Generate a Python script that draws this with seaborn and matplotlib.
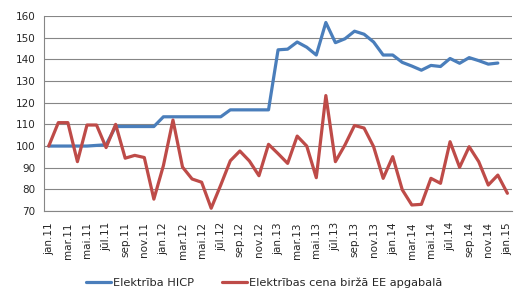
import numpy as np
import pandas as pd
import matplotlib
matplotlib.use("Agg")
import matplotlib.pyplot as plt
import seaborn as sns

# mēneši jan.11 .. jan.15
months = ['jan', 'feb', 'mar', 'apr', 'mai', 'jūn', 'jūl', 'aug', 'sep', 'okt', 'nov', 'dec']
labels = ['{}.{}'.format(m, y) for y in range(11, 15) for m in months] + ['jan.15']

hicp = [100, 100, 100, 100, 100, 100.3, 100.6, 109, 109, 109, 109, 109,
        113.5, 113.5, 113.5, 113.5, 113.5, 113.5, 113.5, 116.7, 116.7, 116.7, 116.7, 116.7,
        144.4, 144.7, 148, 145.6, 142, 157, 147.7, 149.5, 153, 151.6, 148, 142,
        142, 138.6, 136.9, 135, 137.2, 136.7, 140.4, 138.2, 140.8, 139.4, 137.8, 138.3,
        np.nan]
birza = [100, 110.8, 110.8, 92.8, 109.7, 109.7, 99.3, 110, 94.4, 95.7, 94.7, 75.5,
         91, 112, 90.3, 84.8, 83.3, 71.3, 82, 93.2, 97.7, 93.1, 86.3, 100.8,
         96.5, 92, 104.6, 100, 85.4, 123.3, 92.8, 100.5, 109.5, 108.3, 99.7, 85.1,
         95.1, 79.8, 72.8, 73.1, 85.1, 82.8, 102, 90.2, 99.7, 92.8, 82, 86.6,
         78.2]

df = pd.DataFrame({'idx': np.arange(len(labels)), 'hicp': hicp, 'birza': birza})

sns.set_style('white')
plt.rcParams['font.family'] = ['DejaVu Sans']

fig = plt.figure(figsize=(5.28, 3.05), dpi=100)
ax = fig.add_axes([0.0833, 0.308, 0.8867, 0.6395])

grid_c = '#868686'
sns.lineplot(data=df, x='idx', y='hicp', ax=ax, color='#4A7EBB', lw=2.3,
             label='Elektrība HICP')
sns.lineplot(data=df, x='idx', y='birza', ax=ax, color='#BE4B48', lw=2.3,
             label='Elektrības cena biržā EE apgabalā')

ax.set_xlim(-0.5, 48.5)
ax.set_ylim(70, 160)
ax.set_yticks(range(70, 161, 10))
ax.yaxis.grid(True, color=grid_c, lw=0.8)
ax.set_axisbelow(True)

ax.set_xticks(np.arange(0, 49, 2))
ax.set_xticklabels(labels[::2], rotation=90, fontsize=7.5)
ax.set_xticks(np.arange(-0.5, 48, 2), minor=True)
ax.tick_params(axis='x', which='major', length=0, pad=8)
ax.tick_params(axis='x', which='minor', length=4, color=grid_c, width=0.8)
ax.tick_params(axis='y', length=4, color=grid_c, width=0.8, labelsize=7.5, pad=2)

for s in ['top', 'right']:
    ax.spines[s].set_visible(False)
for s in ['left', 'bottom']:
    ax.spines[s].set_color(grid_c)
    ax.spines[s].set_linewidth(0.8)

ax.set_xlabel('')
ax.set_ylabel('')

h, l = ax.get_legend_handles_labels()
ax.get_legend().remove()
fig.legend(h, l, loc='center', bbox_to_anchor=(0.5, 0.072), ncol=2, frameon=False,
           fontsize=8.2, handlelength=2.2, handletextpad=0.2, columnspacing=2.4)

fig.savefig('out.png', dpi=100)
